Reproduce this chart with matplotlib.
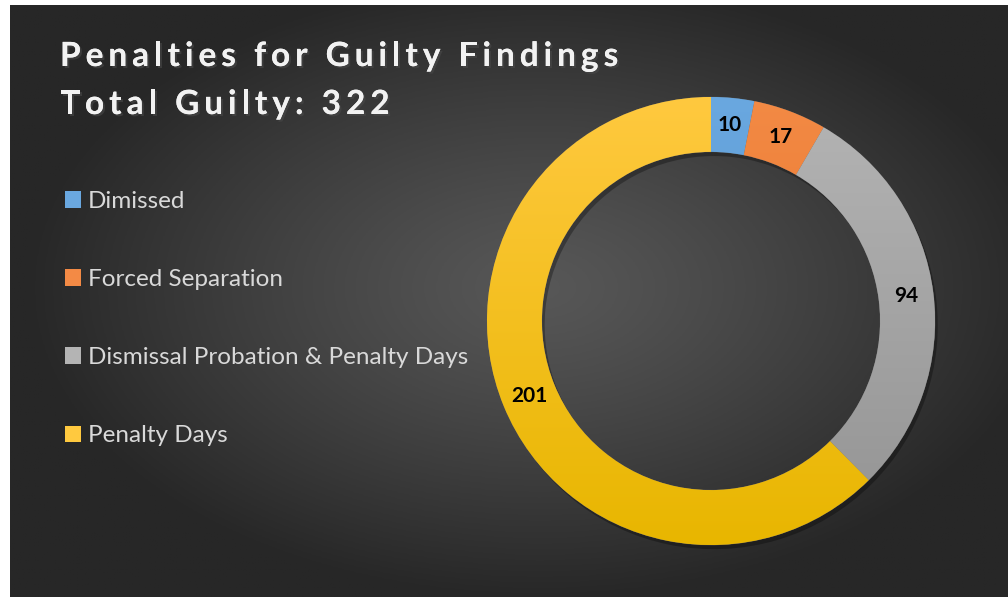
import numpy as np
import matplotlib
matplotlib.use("Agg")
import matplotlib.pyplot as plt
import matplotlib.patheffects as pe
from matplotlib.colors import LinearSegmentedColormap
from matplotlib.patches import Patch

# data
categories = ["Dimissed", "Forced Separation", "Dismissal Probation & Penalty Days", "Penalty Days"]
counts = [10, 17, 94, 201]
title_lines = ["Penalties for Guilty Findings", "Total Guilty: 322"]

# (top colour, bottom colour) for the slice gradients
colors = [("#6aa8e0", "#4a88c4"), ("#f38a45", "#e26a1c"),
          ("#b4b4b4", "#939393"), ("#ffc93f", "#e8b600")]

W, H = 1008, 597
fig = plt.figure(figsize=(W / 100, H / 100), dpi=100, facecolor="white")
renderer = fig.canvas.get_renderer()

# background panel with radial gradient
bg = fig.add_axes([10 / W, 0, (W - 10) / W, (H - 5) / H])
bg.set_axis_off()
yy, xx = np.mgrid[0:200, 0:340]
nx = (xx - 180) / 175
ny = (yy - 95) / 105
r = np.clip(np.sqrt(nx ** 2 + ny ** 2), 0, 1)
val = (87 - 48 * r ** 1.2) / 255
bg.imshow(np.dstack([val, val, val]), aspect="auto", extent=(0, 1, 0, 1))
bg.set_xlim(0, 1)
bg.set_ylim(0, 1)

# donut
cx, cy, R = 711, 321, 224
ax = fig.add_axes([(cx - R) / W, (H - cy - R) / H, 2 * R / W, 2 * R / H])
total = sum(counts)
wedges, _, autotexts = ax.pie(
    counts, startangle=90, counterclock=False, radius=1,
    colors=[c[0] for c in colors],
    wedgeprops=dict(width=0.245, linewidth=0.4, edgecolor="#555555"),
    autopct=lambda p: f"{round(p * total / 100)}", pctdistance=0.877,
    textprops=dict(color="black", fontsize=15, fontweight="bold", family="Lato"),
)
ax.set_xlim(-1, 1)
ax.set_ylim(-1, 1)
ax.set_aspect("auto")

grad = np.linspace(0, 1, 256).reshape(-1, 1)
for w, (top, bottom) in zip(wedges, colors):
    cmap = LinearSegmentedColormap.from_list("g", [bottom, top])
    im = ax.imshow(grad, cmap=cmap, extent=(-1, 1, -1, 1), origin="lower",
                   aspect="auto", zorder=w.get_zorder() + 0.1)
    im.set_clip_path(w)
    w.set_path_effects([pe.withSimplePatchShadow(offset=(2, -3), shadow_rgbFace="black", alpha=0.3)])
for t in autotexts:
    t.set_zorder(5)


def spaced_text(x_px, y_px, s, spacing, **kw):
    # draw a string char by char with extra letter spacing (pixels)
    def width(txt):
        t = fig.text(0, 0, txt, **kw)
        w_ = t.get_window_extent(renderer).width
        t.remove()
        return w_
    bar = width("|")
    for i, ch in enumerate(s):
        if ch == " ":
            continue
        x = x_px + width(s[:i] + "|") - bar + i * spacing if i else x_px
        fig.text(x / W, 1 - y_px / H, ch, va="baseline", **kw)


title_kw = dict(color="#f2f2f2", fontsize=24, fontweight="bold", family="Lato",
                path_effects=[pe.withSimplePatchShadow(offset=(1.5, -1.5), alpha=0.6), pe.Normal()])
spaced_text(60, 66, title_lines[0], 5.0, **title_kw)
spaced_text(60, 114, title_lines[1], 5.0, **title_kw)

# legend
handles = [Patch(facecolor=c[0], edgecolor="none") for c in colors]
leg = fig.legend(handles, categories, loc="upper left", bbox_to_anchor=(43 / W, 1 - 169 / H),
                 frameon=False, prop=dict(family="Lato", size=17.5),
                 handlelength=0.66, handleheight=0.66, handletextpad=0.3, labelspacing=2.35)
for t in leg.get_texts():
    t.set_color("#d9d9d9")

fig.savefig("out.png", dpi=100, facecolor="white")
